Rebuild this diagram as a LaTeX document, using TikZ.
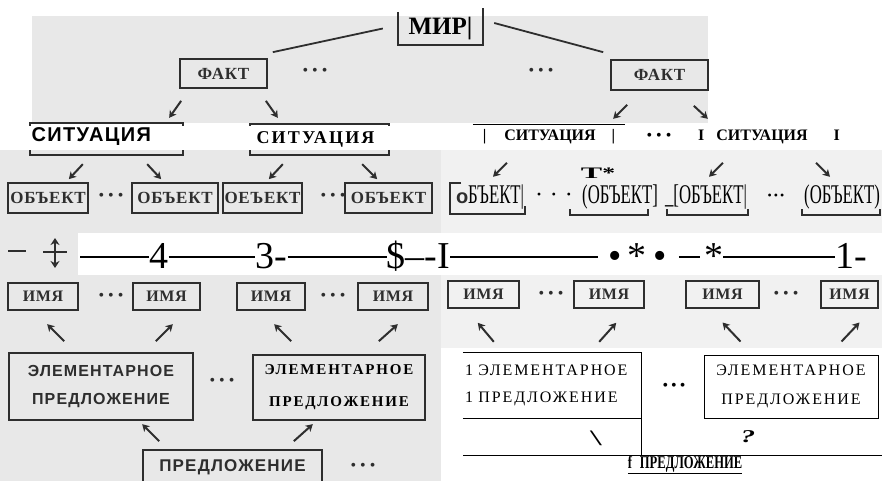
\documentclass[tikz,border=0pt]{standalone}
\usepackage{fontspec}
\usepackage{graphicx}
\setmainfont{Liberation Serif}
\newfontfamily\scansans{Liberation Sans}[LetterSpace=7]
\newfontfamily\scanserif{Liberation Serif}[LetterSpace=4]
\newfontfamily\wideserif{Liberation Serif}[LetterSpace=12]
\newfontfamily\ocrnarrow{Liberation Serif}[FakeStretch=0.62]
\newfontfamily\ocrcond{Liberation Serif}[FakeStretch=0.7]
\usetikzlibrary{arrows.meta,calc}
\definecolor{ink}{gray}{0.18}
\definecolor{scanbg}{gray}{0.91}
\newcommand\fsz[1]{\fontsize{#1}{#1}\selectfont}
\newcommand\scandots{•\kern4pt•\kern4pt•}

\begin{document}
\begin{tikzpicture}[
    x=1pt, y=-1pt,
    scanbox/.style={rectangle, draw=ink, line width=1.7pt, inner sep=0pt, text=ink, font=\scanserif\bfseries\fsz{17}},
    namebox/.style={scanbox, minimum height=27pt, font=\scanserif\bfseries\fsz{16}},
    arr/.style={draw=ink, line width=2pt, -{Stealth[length=7pt,width=8pt,inset=2pt]}},
    link/.style={draw=ink, line width=1.8pt},
    dotsnode/.style={text=ink, inner sep=0pt, font=\fsz{16}},
    ocr/.style={inner sep=0pt, font=\fsz{16}},
    ocrobj/.style={inner sep=0pt, font=\ocrnarrow\fsz{27}, text height=19pt, text depth=5pt},
    bigtext/.style={inner sep=0pt, font=\fsz{38}, text height=22pt, text depth=0pt},
    rowline/.style={line width=1.6pt},
    ocrframe/.style={line width=1pt}
]
\useasboundingbox (0,0) rectangle (882,481);

% scanned background
\fill[scanbg] (32,16) rectangle (708,123);
\fill[scanbg] (0,150) rectangle (441,481);
\fill[scanbg!60] (441,150) rectangle (882,348);
\fill[white] (78,233) rectangle (882,275);

% World
\node[minimum width=85pt, minimum height=33pt, inner sep=0pt, font=\bfseries\fsz{25}] (mir) at (440.5,28.5) {МИР|};
\draw[link] (mir.north west) |- (mir.south east) -- ([yshift=4pt]mir.north east);

% Facts
\node[scanbox, minimum width=87pt, minimum height=29pt] (fakt1) at (223.5,73.5) {ФАКТ};
\node[scanbox, minimum width=97pt, minimum height=30pt] (fakt2) at (659.5,75) {ФАКТ};
\node[dotsnode] (fdots1) at (315,72) {\scandots};
\node[dotsnode] (fdots2) at (541,72) {\scandots};
\draw[link] ([xshift=-15pt]mir.west) -- ([shift={(5pt,6pt)}]fakt1.north east);
\draw[link] ([shift={(11pt,5.5pt)}]mir.east) -- ([shift={(-7pt,7pt)}]fakt2.north west);

% Situations: frames, white OCR band, then text
\node[draw=ink, line width=1.4pt, minimum width=153pt, minimum height=32pt, inner sep=0pt] (sit1) at (106.5,139) {};
\node[draw=ink, line width=1.4pt, minimum width=139pt, minimum height=31pt, inner sep=0pt] (sit2) at (319.5,139.5) {};
\fill[white] (0,126.5) rectangle (882,150);
\node[font=\scansans\bfseries\fsz{20}, anchor=west, inner sep=0pt] (sit1text) at ([shift={(2pt,2pt)}]sit1.west) {СИТУАЦИЯ};
\node[font=\wideserif\bfseries\fsz{18}, inner sep=0pt] (sit2text) at ([xshift=-4pt]sit2.center) {СИТУАЦИЯ};
\node[ocr, font=\bfseries\fsz{16}, minimum width=152pt, minimum height=24pt] (sit3) at (549,137) {|\hspace{18pt}СИТУАЦИЯ\hspace{16pt}|};
\draw[ocrframe] (sit3.north west) -- (sit3.north east);
\node[ocr] (sitdots) at (659,137) {•\kern4pt•\kern4pt•};
\node[ocr, font=\bfseries\fsz{16}] (sit4) at (769,137) {I\hspace{12pt}СИТУАЦИЯ\hspace{26pt}I};

% Fact -> situation arrows
\draw[arr] ($(fakt1.south west)+(2,12)$) -- ++(-12,17);
\draw[arr] ($(fakt1.south east)+(-2,12)$) -- ++(12,17);
\draw[arr] ($(fakt2.south west)+(17,14)$) -- ++(-14,14);
\draw[arr] ($(fakt2.south east)+(-15,15)$) -- ++(14,13);

% Objects (scan)
\node[scanbox, minimum width=80pt, minimum height=30pt] (obj1) at (48,198) {ОБЪЕКТ};
\node[scanbox, minimum width=86pt, minimum height=30pt] (obj2) at (175,198) {ОБЪЕКТ};
\node[scanbox, minimum width=79pt, minimum height=30pt] (obj3) at (262.5,198) {ОЕЪЕКТ};
\node[scanbox, minimum width=87pt, minimum height=30pt] (obj4) at (388.5,198) {ОБЪЕКТ};
\node[dotsnode] (odots1) at (111,197) {\scandots};
\node[dotsnode] (odots2) at (333,197) {\scandots};

% Objects (OCR)
\node[ocrobj] (robj1) at (490,196) {{\scansans\bfseries\color{ink}\fsz{20}о}БЪЕКТ|};
\node[ocr, font=\fsz{24}] (rdots1) at (554,198) {·\hspace{7pt}·\hspace{7pt}·};
\node[ocrobj] (robj2) at (620,196) {(ОБЪЕКТ]};
\node[ocrobj] (robj3) at (706,196) {\_[ОБЪЕКТ|};
\node[ocr, font=\fsz{12}] (rdots2) at (776,197) {•\kern2pt•\kern2pt•};
\node[ocrobj] (robj4) at (842,196) {(ОБЪЕКТ)};
\node[inner sep=0pt, font=\bfseries\fsz{16}] (tstar) at (598,173) {\scalebox{2}[1]{T}\scalebox{1.6}[1]{*}};
\draw[link] (461,183) -- (450,183) -- (450,214) -- (525,214) -- (525,206);
\draw[link] (570,209) |- (648,215) -- (648,209);
\draw[link] (667,209) |- (748,215) -- (748,209);
\draw[link] (802,209) |- (880,215) -- (880,209);

% Situation -> object arrows
\draw[arr] ($(obj1.north east)+(-6,-18)$) -- ++(-14,15);
\draw[arr] ($(obj2.north west)+(16,-18)$) -- ++(14,15);
\draw[arr] ($(obj3.north east)+(-20,-18)$) -- ++(-14,15);
\draw[arr] ($(obj4.north west)+(18,-18)$) -- ++(15,15);
\draw[arr] ($(robj1.north)+(17,-21)$) -- ++(-14,14);
\draw[arr] ($(robj3.north)+(17,-21)$) -- ++(-14,14);
\draw[arr] ($(robj4.north)+(-26,-21)$) -- ++(14,14);

% Middle row
\draw[link, line width=2.4pt] (8,251) -- (26,251);
\draw[link, line width=2.4pt] (43,252) -- (67,252);
\draw[link, line width=2.2pt, {Stealth[length=7pt,width=9pt]}-{Stealth[length=7pt,width=9pt]}] (55,238) -- (55,268);
\coordinate (mstart) at (80,257);
\node[bigtext] (n4) at (159,257) {4};
\node[bigtext] (n3) at (271.5,257) {3-};
\node[bigtext] (ndol) at (418.5,257) {\$–-I};
\node[bigtext] (nbul) at (637.5,257) {•\,*\,•};
\node[bigtext] (nast) at (713.5,257) {*};
\node[bigtext] (n1) at (851.5,257) {1-};
\draw[rowline] (mstart) -- (n4.west);
\draw[rowline] (n4.east) -- (n3.west);
\draw[rowline] (n3.east) -- (ndol.west);
\draw[rowline, shorten >=10pt] (ndol.east) -- (nbul.west);
\draw[rowline, shorten <=12pt, shorten >=4pt] (nbul.east) -- (nast.west);
\draw[rowline] (nast.east) -- (n1.west);

% Names
\node[namebox, minimum width=70pt] (imya1) at (43,296.5) {ИМЯ};
\node[namebox, minimum width=67pt] (imya2) at (166.5,296.5) {ИМЯ};
\node[namebox, minimum width=68pt] (imya3) at (271,296.5) {ИМЯ};
\node[namebox, minimum width=70pt] (imya4) at (393,296.5) {ИМЯ};
\node[namebox, minimum width=71pt] (imya5) at (483.5,294.5) {ИМЯ};
\node[namebox, minimum width=70pt] (imya6) at (609,294.5) {ИМЯ};
\node[namebox, minimum width=73pt] (imya7) at (722.5,294.5) {ИМЯ};
\node[namebox, minimum width=57pt] (imya8) at (849.5,294.5) {ИМЯ};
\node[dotsnode] (ndots1) at (111,297) {\scandots};
\node[dotsnode] (ndots2) at (333,297) {\scandots};
\node[dotsnode] (ndots3) at (551,295) {\scandots};
\node[dotsnode] (ndots4) at (786,295) {\scandots};

% Elementary sentences
\node[scanbox, minimum width=184pt, minimum height=67pt, align=center, font=\scansans\bfseries\fontsize{16}{28}\selectfont] (el1) at (101,386.5) {ЭЛЕМЕНТАРНОЕ\\ПРЕДЛОЖЕНИЕ};
\node[scanbox, minimum width=172pt, minimum height=65pt, align=center, text=black, font=\wideserif\bfseries\fontsize{15}{32}\selectfont] (el2) at (339,387.5) {ЭЛЕМЕНТАРНОЕ\\ПРЕДЛОЖЕНИЕ};
\node[dotsnode] (eldots) at (222,382) {\scandots};
\node[scanbox, minimum width=179pt, minimum height=34pt, font=\scansans\bfseries\fsz{17}] (pred) at (232.5,467) {ПРЕДЛОЖЕНИЕ};
\node[dotsnode] (preddots) at (363,467) {\scandots};

\node[inner sep=0pt, minimum width=178pt, minimum height=65pt, text width=174pt, align=left, font=\wideserif\fontsize{16}{27}\selectfont] (rel1) at (552,385.5) {1 ЭЛЕМЕНТАРНОЕ\\1 ПРЕДЛОЖЕНИЕ};
\node[draw, ocrframe, minimum width=174pt, minimum height=63pt, inner sep=0pt, align=center, font=\wideserif\fontsize{16}{29}\selectfont] (rel2) at (791,386.5) {ЭЛЕМЕНТАРНОЕ\\ПРЕДЛОЖЕНИЕ};
\coordinate (baseL) at (463,455);
\coordinate (baseR) at (882,455);
\draw[ocrframe] (rel1.north west) -- (rel1.north east) -- (rel1.north east |- baseL);
\draw[ocrframe] (rel1.south west) -- (rel1.south east);
\draw[ocrframe] (baseL) -- (baseR);
\node[ocr] (reldots) at (674,387) {•\kern3pt•\kern3pt•};
\node[ocr, font=\fsz{22}] (bslash) at (596,438) {\scalebox{2}[1]{\textbackslash}};
\node[ocr, font=\bfseries\itshape\fsz{18}] (qmark) at (748,437) {\scalebox{1.6}[1]{?}};
\node[ocr, font=\ocrcond\bfseries\fsz{18}] (fpred) at (685,465) {\underline{f\hspace{8pt}ПРЕДЛОЖЕНИЕ}};

% Sentence -> name arrows
\draw[arr] ($(el1.north west)+(56,-11)$) -- ++(-17,-17);
\draw[arr] ($(el1.north east)+(-38,-11)$) -- ++(17,-17);
\draw[arr] ($(el2.north west)+(39,-13)$) -- ++(-17,-17);
\draw[arr] ($(el2.north east)+(-47,-13)$) -- ++(19,-17);
\draw[arr] ($(rel1.north west)+(31,-11)$) -- ++(-16,-19);
\draw[arr] ($(rel1.north east)+(-42,-11)$) -- ++(17,-19);
\draw[arr] ($(rel2.north west)+(37,-13)$) -- ++(-18,-19);
\draw[arr] ($(rel2.north east)+(-37,-13)$) -- ++(18,-19);
\draw[arr] ($(pred.north west)+(17,-8)$) -- ++(-17,-17);
\draw[arr] ($(pred.north east)+(-29,-8)$) -- ++(19,-17);

\end{tikzpicture}
\end{document}
